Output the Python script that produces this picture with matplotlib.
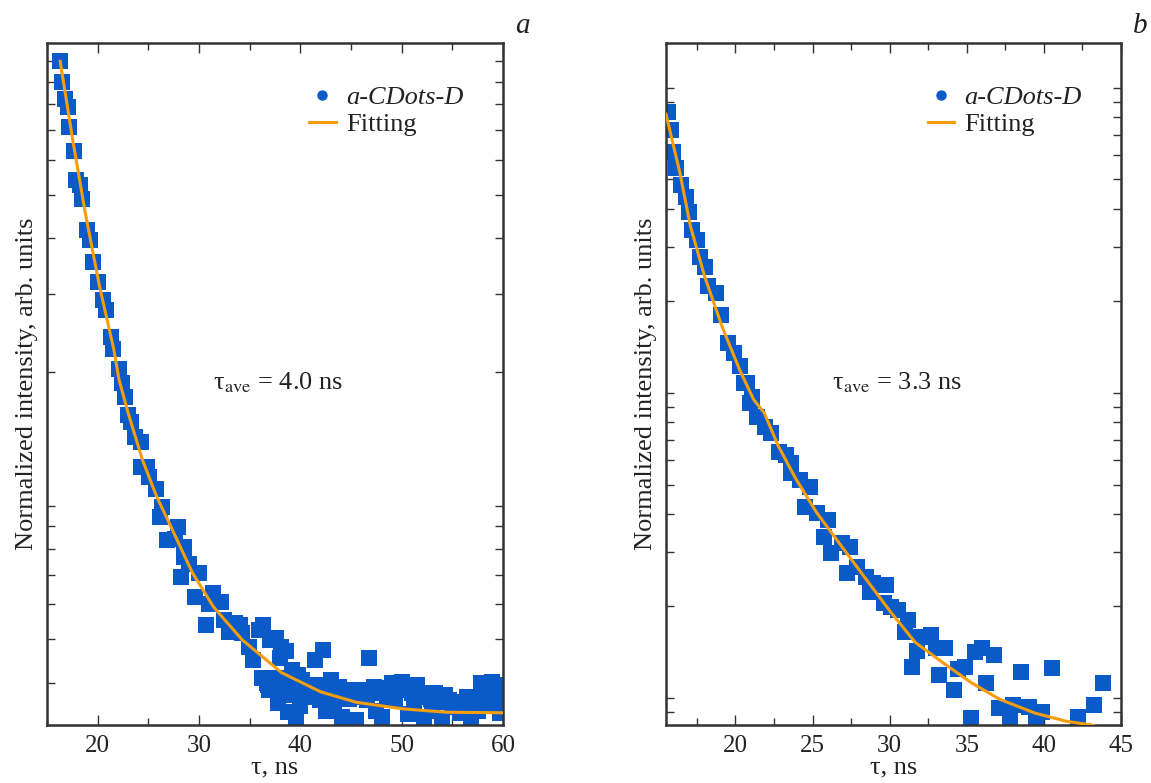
import matplotlib
matplotlib.use("Agg")
import matplotlib.pyplot as plt
from matplotlib.lines import Line2D
from matplotlib.ticker import LogLocator, NullFormatter, NullLocator, MultipleLocator

plt.rcParams['font.family'] = ['Liberation Serif', 'DejaVu Serif']
plt.rcParams['mathtext.fontset'] = 'stix'

# ---- panel a: decay data (tau in ns, normalized intensity)
t_a = [16.27, 16.48, 16.80, 17.12, 17.22, 17.65, 17.86, 18.28, 18.49, 18.92,
       19.23, 19.55, 20.08, 20.50, 20.82, 21.35, 21.56, 22.09, 22.41, 22.72,
       23.25, 23.68, 24.31, 24.31, 25.05, 25.79, 26.32, 26.11, 27.91, 26.85,
       28.54, 28.54, 30.03, 28.23, 29.60, 31.40, 32.14, 30.66, 32.46, 33.52,
       34.26, 34.89, 35.32, 35.95, 37.01, 38.07, 36.69, 38.07, 39.13, 40.19,
       42.20, 41.46, 38.81, 40.61, 41.98, 43.78, 43.36, 45.48, 46.75, 47.28,
       49.07, 50.45, 48.02, 51.83, 53.31, 54.68, 52.25, 56.06, 56.80, 57.86,
       58.92, 59.23, 53.94, 44.10, 45.48, 51.19, 55.74, 59.66, 57.86, 49.39,
       46.53, 37.75, 39.55, 36.8, 37.6, 39.8, 42.9, 44.8, 46.0, 48.6,
       50.0, 51.0, 52.9, 54.0, 55.2, 56.4, 58.4, 59.6,
       36.2, 36.9, 37.4, 38.5, 39.0, 39.8, 40.5, 41.0, 41.8, 42.6,
       43.0, 44.3, 44.9, 45.9, 46.5, 47.9, 48.4, 49.7, 50.8, 51.5,
       52.6, 53.6, 54.3, 55.0, 55.4, 57.2, 58.2, 59.9, 40.0, 42.5,
       47.5, 50.6, 53.0, 57.5, 36.3, 37.6, 38.6, 38.0, 27.6, 29.0,
       31.0, 33.0, 34.0, 24.9, 23.0]
i_a = [1.000, 0.897, 0.821, 0.788, 0.710, 0.627, 0.542, 0.528, 0.489, 0.418,
       0.397, 0.353, 0.318, 0.291, 0.276, 0.240, 0.225, 0.203, 0.189, 0.176,
       0.154, 0.143, 0.139, 0.122, 0.116, 0.109, 0.0995, 0.0945, 0.0897, 0.0839,
       0.0808, 0.0768, 0.0707, 0.0692, 0.0624, 0.0637, 0.0608, 0.0540, 0.0554, 0.0545,
       0.0518, 0.0481, 0.0450, 0.0526, 0.0499, 0.0481, 0.0400, 0.0385, 0.0427, 0.0406,
       0.0474, 0.0450, 0.0344, 0.0371, 0.0366, 0.0391, 0.0347, 0.0379, 0.0455, 0.0391,
       0.0400, 0.0391, 0.0335, 0.0379, 0.0379, 0.0366, 0.0335, 0.0353, 0.0335, 0.0400,
       0.0402, 0.0360, 0.0330, 0.0335, 0.0330, 0.0351, 0.0342, 0.0342, 0.0371, 0.0366,
       0.0366, 0.0360, 0.0335, 0.0395, 0.0410, 0.0385, 0.0372, 0.0368, 0.0380, 0.0372,
       0.0402, 0.0378, 0.0368, 0.0372, 0.0360, 0.0372, 0.0356, 0.0385,
       0.0410, 0.0385, 0.0405, 0.0395, 0.0375, 0.0415, 0.0395, 0.0380, 0.0395, 0.0385,
       0.0405, 0.0375, 0.0385, 0.0372, 0.0385, 0.0378, 0.0388, 0.0395, 0.0385, 0.0395,
       0.0372, 0.0362, 0.0375, 0.0352, 0.0362, 0.0352, 0.0385, 0.0395, 0.0355, 0.0345,
       0.0345, 0.0340, 0.0345, 0.0345, 0.0540, 0.0505, 0.0470, 0.0455, 0.0840, 0.0740,
       0.0600, 0.0520, 0.0540, 0.1220, 0.1600]
fit_t_a = [16.30, 17.53, 18.77, 20.18, 21.59, 22.11, 23.00, 24.41, 25.81, 27.22,
           29.34, 31.45, 34.27, 38.15, 42.03, 45.55, 50.13, 54.36, 60.0]
fit_i_a = [1.0, 0.668, 0.457, 0.312, 0.225, 0.192, 0.162, 0.127, 0.105, 0.0898,
           0.0707, 0.0591, 0.0499, 0.0421, 0.0381, 0.0361, 0.0349, 0.0343, 0.0342]

# ---- panel b
t_b = [15.64, 15.84, 15.98, 16.18, 16.46, 16.80, 17.00, 17.21, 17.48, 17.68,
       18.02, 18.23, 18.71, 19.05, 19.52, 19.93, 20.27, 20.75, 21.09, 20.55,
       20.96, 21.43, 21.91, 22.32, 22.80, 23.28, 23.62, 23.62, 24.16, 24.85,
       24.50, 25.32, 26.00, 25.73, 26.21, 26.89, 27.44, 27.23, 27.91, 28.46,
       28.94, 29.76, 28.73, 29.62, 30.10, 30.51, 31.19, 30.98, 32.01, 32.69,
       31.80, 33.03, 33.58, 31.46, 33.17, 34.19, 34.40, 34.87, 35.55, 35.96,
       36.78, 36.24, 35.28, 37.12, 38.01, 37.81, 38.49, 39.03, 39.85, 40.53,
       39.51, 42.24, 43.26, 43.81]
i_b = [0.834, 0.728, 0.617, 0.547, 0.481, 0.439, 0.392, 0.342, 0.317, 0.279,
       0.259, 0.223, 0.213, 0.180, 0.146, 0.135, 0.122, 0.108, 0.097, 0.108,
       0.0927, 0.0834, 0.0773, 0.0739, 0.0641, 0.0626, 0.0590, 0.0547, 0.0519, 0.0492,
       0.0423, 0.0404, 0.0384, 0.0337, 0.0299, 0.0322, 0.0313, 0.0257, 0.0269, 0.0249,
       0.0238, 0.0235, 0.0223, 0.0205, 0.0199, 0.0194, 0.0180, 0.0165, 0.0158, 0.0161,
       0.0142, 0.0146, 0.0146, 0.0126, 0.0119, 0.0106, 0.0124, 0.0126, 0.0141, 0.0146,
       0.0138, 0.0112, 0.0086, 0.00927, 0.00948, 0.0086, 0.01217, 0.00934, 0.0090, 0.01254,
       0.00848, 0.00867, 0.00948, 0.0112]
fit_t_b = [15.5, 16.40, 17.08, 18.00, 19.13, 20.27, 21.18, 21.87, 22.78, 23.92,
           25.28, 26.88, 28.47, 30.07, 31.66, 33.49, 35.31, 37.13, 39.41, 41.46,
           43.05, 45.0]
fit_i_b = [0.818, 0.526, 0.352, 0.241, 0.165, 0.119, 0.095, 0.0859, 0.0669, 0.0522,
           0.0404, 0.0314, 0.0245, 0.0191, 0.0152, 0.0130, 0.0112, 0.0099, 0.00892, 0.00838,
           0.00816, 0.0076]

blue = '#0a5bc8'
orange = '#f59d0a'
dark = '#333333'

fig = plt.figure(figsize=(11.51, 7.83), dpi=100)
ax1 = fig.add_axes([47 / 1151, 58 / 783, 456 / 1151, 682 / 783])
ax2 = fig.add_axes([666 / 1151, 58 / 783, 455 / 1151, 682 / 783])

panels = [
    (ax1, t_a, i_a, fit_t_a, fit_i_a, (15, 60), (0.0321, 1.10), 10, 5, '4.0', 'a'),
    (ax2, t_b, i_b, fit_t_b, fit_i_b, (15.5, 45), (0.00815, 1.40), 5, 2.5, '3.3', 'b'),
]

for ax, t, inten, ft, fi, xl, yl, xmaj, xmin, tau, letter in panels:
    ax.plot(t, inten, 's', ms=11, color=blue, mew=0, zorder=2)
    ax.plot(ft, fi, '-', color=orange, lw=2.2, zorder=3)
    ax.set_yscale('log')
    ax.set_xlim(*xl)
    ax.set_ylim(*yl)
    ax.xaxis.set_major_locator(MultipleLocator(xmaj))
    ax.xaxis.set_minor_locator(MultipleLocator(xmin))
    ax.yaxis.set_major_locator(LogLocator(base=10, subs=range(1, 10), numticks=50))
    ax.yaxis.set_minor_locator(NullLocator())
    ax.yaxis.set_major_formatter(NullFormatter())
    ax.tick_params(which='both', direction='in', top=True, right=True, color=dark, width=1.0)
    ax.tick_params(axis='x', which='major', length=7, labelsize=18, pad=7, labelcolor='#222222')
    ax.tick_params(axis='x', which='minor', length=5)
    ax.tick_params(axis='y', which='major', length=6)
    for sp in ax.spines.values():
        sp.set_linewidth(1.8)
        sp.set_color(dark)
    ax.set_xlabel('τ, ns', fontsize=19, labelpad=0, color='#222222')
    ax.set_ylabel('Normalized intensity, arb. units', fontsize=19, labelpad=3, color='#222222')

    handles = [Line2D([], [], marker='o', ls='none', color=blue, ms=6.5),
               Line2D([], [], color=orange, lw=2.2)]
    leg = ax.legend(handles, ['a-CDots-D', 'Fitting'], loc='upper left',
                    bbox_to_anchor=(0.575, 0.937), frameon=False, fontsize=19,
                    handlelength=1.0, handletextpad=0.4, labelspacing=0.12,
                    borderpad=0, borderaxespad=0)
    leg.get_texts()[0].set_fontstyle('italic')
    for txt in leg.get_texts():
        txt.set_color('#222222')

    ax.text(0.365, 0.502, 'τ$_{\\mathrm{ave}}$ = ' + tau + ' ns', transform=ax.transAxes,
            fontsize=19, va='center', ha='left', color='#222222')
    ax.text(1.042, 1.025, letter, transform=ax.transAxes, fontsize=21, style='italic',
            ha='center', va='center', color='#222222')

fig.savefig('out.png', dpi=100)
